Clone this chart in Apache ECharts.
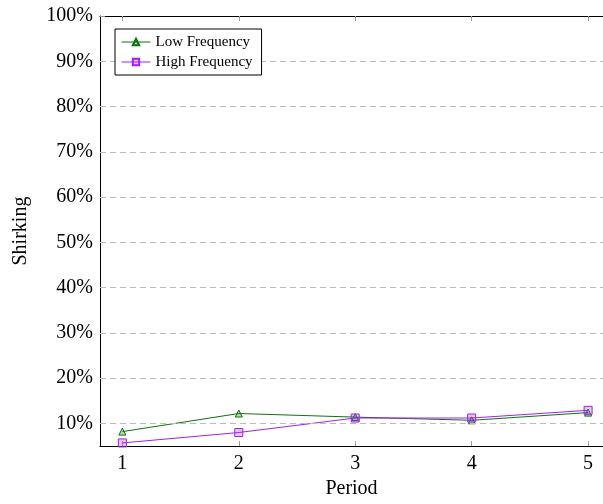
<!DOCTYPE html>
<html>
<head>
<meta charset="utf-8">
<script src="https://cdn.jsdelivr.net/npm/echarts@6/dist/echarts.min.js"></script>
<style>
html,body{margin:0;padding:0;background:#fff;}
#chart{width:603px;height:504px;}
</style>
</head>
<body>
<div id="chart"></div>
<script>
const periods = [1, 2, 3, 4, 5];
const lowFrequency = [8.2, 12.2, 11.4, 10.7, 12.4];
const highFrequency = [5.7, 8.0, 11.2, 11.2, 12.9];
const yTicks = [10, 20, 30, 40, 50, 60, 70, 80, 90, 100];
const xTicks = [1, 2, 3, 4, 5];

const FONT = 'Liberation Serif';
const GREEN = '#107010';
const PURPLE = '#a020f0';

const chart = echarts.init(document.getElementById('chart'), null, {renderer: 'canvas'});
const xCommon = {
  type: 'value', min: 0.808, max: 5.128,
  splitLine: {show: false},
  axisLine: {show: true, onZero: false, lineStyle: {color: '#000', width: 1}},
  axisTick: {show: true, inside: true, length: 5, customValues: xTicks, lineStyle: {color: '#999'}}
};
chart.setOption({
  animation: false,
  grid: {left: 100, top: 16, bottom: 57, right: 0, containLabel: false},
  legend: {
    left: 115, top: 29, orient: 'vertical', z: 20,
    padding: [5, 9, 5, 6],
    backgroundColor: '#fff',
    borderColor: '#000', borderWidth: 1,
    itemWidth: 29, itemHeight: 8, itemGap: 4,
    lineStyle: {width: 1},
    textStyle: {fontFamily: FONT, fontSize: 15, color: '#000', lineHeight: 16},
    data: ['Low Frequency', 'High Frequency']
  },
  xAxis: [
    Object.assign({}, xCommon, {
      position: 'bottom',
      name: 'Period', nameLocation: 'middle', nameGap: 32,
      nameTextStyle: {fontFamily: FONT, fontSize: 20, color: '#000'},
      axisLabel: {show: true, customValues: xTicks, margin: 8, fontFamily: FONT, fontSize: 20, color: '#000'}
    }),
    Object.assign({}, xCommon, {
      position: 'top',
      axisLabel: {show: false}
    })
  ],
  yAxis: [
    {
      type: 'value', min: 5, max: 100, position: 'left',
      name: 'Shirking', nameLocation: 'middle', nameGap: 69, nameRotate: 90,
      nameTextStyle: {fontFamily: FONT, fontSize: 20, color: '#000'},
      axisLine: {show: true, lineStyle: {color: '#000', width: 1}},
      axisTick: {show: true, inside: true, length: 5, customValues: yTicks, lineStyle: {color: '#999'}},
      axisLabel: {customValues: yTicks, margin: 7, fontFamily: FONT, fontSize: 20, color: '#000',
        formatter: v => v + '%'},
      splitLine: {show: false}
    }
  ],
  series: [
    {
      name: 'Low Frequency', type: 'line',
      data: periods.map((p, i) => [p, lowFrequency[i]]),
      symbol: 'triangle', symbolSize: 7, showAllSymbol: true,
      lineStyle: {color: GREEN, width: 1},
      itemStyle: {color: 'rgba(16,112,16,0.3)', borderColor: GREEN, borderWidth: 1},
      markLine: {
        silent: true, symbol: 'none', label: {show: false},
        lineStyle: {color: '#bbb', type: [6, 4], width: 1},
        data: yTicks.filter(v => v < 100).map(v => ({yAxis: v}))
      },
      z: 3
    },
    {
      name: 'High Frequency', type: 'line',
      data: periods.map((p, i) => [p, highFrequency[i]]),
      symbol: 'rect', symbolSize: 8, showAllSymbol: true,
      lineStyle: {color: PURPLE, width: 1},
      itemStyle: {color: 'rgba(160,32,240,0.25)', borderColor: PURPLE, borderWidth: 1},
      z: 4
    }
  ]
});
</script>
</body>
</html>
